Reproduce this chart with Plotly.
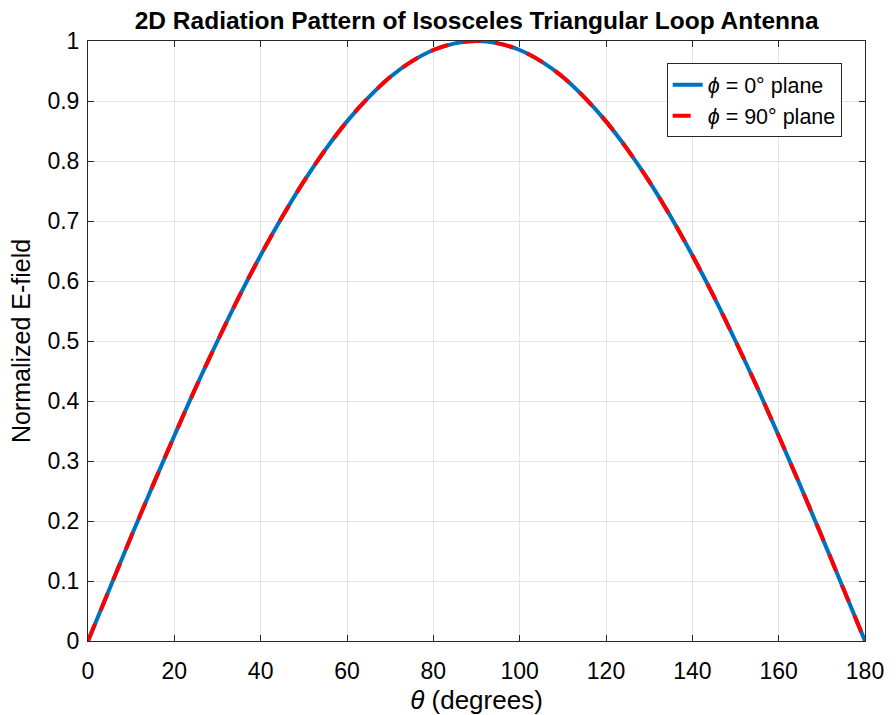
import plotly.graph_objects as go

theta = [0, 5, 10, 15, 20, 25, 30, 35, 40, 45, 50, 55, 60, 65, 70, 75, 80, 85, 90,
         95, 100, 105, 110, 115, 120, 125, 130, 135, 140, 145, 150, 155, 160, 165, 170, 175, 180]
e_phi0 = [0.000, 0.087, 0.174, 0.259, 0.342, 0.423, 0.500, 0.574, 0.643, 0.707, 0.766, 0.819,
          0.866, 0.906, 0.940, 0.966, 0.985, 0.996, 1.000, 0.996, 0.985, 0.966, 0.940, 0.906,
          0.866, 0.819, 0.766, 0.707, 0.643, 0.574, 0.500, 0.423, 0.342, 0.259, 0.174, 0.087, 0.000]
e_phi90 = list(e_phi0)

x_ticks = [0, 20, 40, 60, 80, 100, 120, 140, 160, 180]
y_ticks = [0, 0.1, 0.2, 0.3, 0.4, 0.5, 0.6, 0.7, 0.8, 0.9, 1]
y_tick_labels = ["0", "0.1", "0.2", "0.3", "0.4", "0.5", "0.6", "0.7", "0.8", "0.9", "1"]

FONT = "Arial, Liberation Sans, Helvetica, sans-serif"

fig = go.Figure()
fig.add_trace(go.Scatter(x=theta, y=e_phi0, mode="lines", name="<i>ϕ</i> = 0° plane",
                         line=dict(color="#0072BD", width=4, shape="spline")))
fig.add_trace(go.Scatter(x=theta, y=e_phi90, mode="lines", name="<i>ϕ</i> = 90° plane",
                         line=dict(color="#FF0000", width=4, dash="18px,15px", shape="spline")))

axis_common = dict(showline=True, linecolor="#262626", linewidth=1, mirror="ticks",
                   ticks="inside", ticklen=6, tickcolor="#262626", automargin=False,
                   showgrid=True, gridcolor="#E3E3E3", gridwidth=1, zeroline=False,
                   tickfont=dict(family=FONT, size=23, color="#000000"))

fig.update_layout(
    width=896, height=715,
    margin=dict(l=88, r=31, t=41, b=74),
    paper_bgcolor="white", plot_bgcolor="white",
    title=dict(text="<b>2D Radiation Pattern of Isosceles Triangular Loop Antenna</b>",
               x=0.532, xanchor="center", y=0.972, yanchor="middle",
               font=dict(family=FONT, size=24.5, color="#000000")),
    xaxis=dict(range=[0, 180], tickvals=x_ticks, ticklabelstandoff=9,
               title=dict(text="<i>θ</i> (degrees)", font=dict(family=FONT, size=26, color="#000000"),
                          standoff=14),
               **axis_common),
    yaxis=dict(range=[0, 1], tickvals=y_ticks, ticktext=y_tick_labels, ticklabelstandoff=3,
               title=dict(text="Normalized E-field", font=dict(family=FONT, size=25, color="#000000"),
                          standoff=9),
               **axis_common),
    legend=dict(x=0.970, xanchor="right", y=0.963, yanchor="top",
                bgcolor="white", bordercolor="#262626", borderwidth=1,
                font=dict(family=FONT, size=21.5, color="#000000"),
                tracegroupgap=0),
    showlegend=True,
)

fig.write_html("out.html")
